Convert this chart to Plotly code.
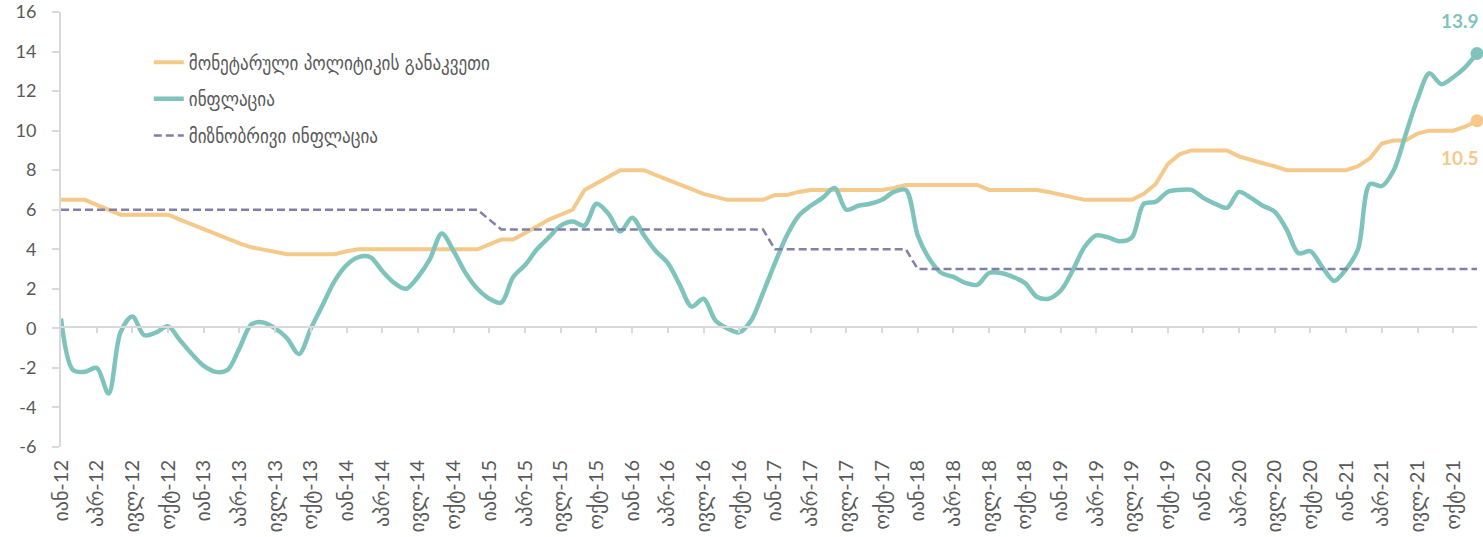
import plotly.graph_objects as go

# Monthly observations, January 2012 – December 2021
month_names = ["იან", "თებ", "მარ", "აპრ", "მაი", "ივნ", "ივლ", "აგვ", "სექ", "ოქტ", "ნოე", "დეკ"]
years = list(range(2012, 2022))
categories = [f"{m}-{str(y)[2:]}" for y in years for m in month_names]

# Monetary policy rate, %
policy_rate = [
    6.5, 6.5, 6.5, 6.25, 6.0, 5.75, 5.75, 5.75, 5.75, 5.75, 5.5, 5.25,
    5.0, 4.75, 4.5, 4.3, 4.1, 4.0, 3.9, 3.75, 3.75, 3.75, 3.75, 3.75,
    3.9, 4.0, 4.0, 4.0, 4.0, 4.0, 4.0, 4.0, 4.0, 4.0, 4.0, 4.0,
    4.25, 4.5, 4.5, 4.8, 5.15, 5.5, 5.75, 6.0, 7.0, 7.33, 7.67, 8.0,
    8.0, 8.0, 7.75, 7.5, 7.25, 7.0, 6.8, 6.65, 6.5, 6.5, 6.5, 6.5,
    6.75, 6.75, 6.9, 7.0, 7.0, 7.0, 7.0, 7.0, 7.0, 7.0, 7.1, 7.25,
    7.25, 7.25, 7.25, 7.25, 7.25, 7.25, 7.0, 7.0, 7.0, 7.0, 7.0, 6.9,
    6.75, 6.6, 6.5, 6.5, 6.5, 6.5, 6.5, 6.8, 7.3, 8.3, 8.8, 9.0,
    9.0, 9.0, 9.0, 8.7, 8.5, 8.35, 8.2, 8.0, 8.0, 8.0, 8.0, 8.0,
    8.0, 8.2, 8.6, 9.35, 9.5, 9.5, 9.85, 10.0, 10.0, 10.0, 10.2, 10.5,
]

# Annual CPI inflation, %
inflation = [
    0.5, -2.1, -2.2, -2.0, -3.3, -0.2, 0.6, -0.35, -0.2, 0.1, -0.6, -1.3,
    -1.9, -2.2, -2.1, -1.0, 0.2, 0.3, 0.0, -0.5, -1.3, 0.0, 1.2, 2.4,
    3.2, 3.6, 3.6, 2.9, 2.3, 2.0, 2.6, 3.5, 4.8, 3.9, 2.8, 2.0,
    1.5, 1.3, 2.6, 3.2, 4.0, 4.6, 5.2, 5.4, 5.2, 6.3, 5.8, 4.9,
    5.6, 4.7, 3.9, 3.3, 2.2, 1.1, 1.5, 0.4, 0.0, -0.2, 0.4, 1.8,
    3.3, 4.7, 5.7, 6.2, 6.6, 7.1, 6.0, 6.2, 6.3, 6.5, 6.9, 7.0,
    4.7, 3.5, 2.8, 2.6, 2.3, 2.2, 2.8, 2.8, 2.6, 2.3, 1.6, 1.5,
    1.9, 2.9, 4.1, 4.7, 4.6, 4.4, 4.6, 6.3, 6.4, 6.9, 7.0, 7.0,
    6.6, 6.3, 6.1, 6.9, 6.6, 6.2, 5.9, 5.0, 3.8, 3.9, 3.1, 2.4,
    3.0, 4.0, 7.3, 7.2, 8.0, 9.8, 11.6, 12.9, 12.35, 12.7, 13.2, 13.9,
]

# Targeted inflation, %
target = [6.0] * 36 + [5.5] + [5.0] * 23 + [4.0] * 12 + [3.0] * 48

series_names = [
    "მონეტარული პოლიტიკის განაკვეთი",
    "ინფლაცია",
    "მიზნობრივი ინფლაცია",
]

y_ticks = list(range(-6, 17, 2))
y_ticktext = [str(v) for v in y_ticks]
x_ticks = categories[::3]

ORANGE = "#F5C98A"
TEAL = "#7FC4BC"
PURPLE = "#8080A8"
TEXT = "#595959"
AXIS = "#D9D9D9"
FONT = "Lato, 'DejaVu Sans', sans-serif"
LEGEND_FONT = "'DejaVu Sans Condensed', 'DejaVu Sans', sans-serif"

Y_MIN, Y_MAX = -6, 16
ZERO_FRAC = (0 - Y_MIN) / (Y_MAX - Y_MIN)

fig = go.Figure()

fig.add_trace(go.Scatter(
    x=categories, y=policy_rate, mode="lines", name=series_names[0],
    line=dict(color=ORANGE, width=4), legendgroup="a",
))
fig.add_trace(go.Scatter(
    x=categories, y=inflation, mode="lines", name=series_names[1],
    line=dict(color=TEAL, width=4.5, shape="spline", smoothing=0.9), legendgroup="b",
))
fig.add_trace(go.Scatter(
    x=categories, y=target, mode="lines", name=series_names[2],
    line=dict(color=PURPLE, width=2.5, dash="8px,4px"), legendgroup="c",
))

# End-point markers for the latest observations
fig.add_trace(go.Scatter(
    x=[categories[-1]], y=[policy_rate[-1]], mode="markers", showlegend=False,
    marker=dict(color=ORANGE, size=13), cliponaxis=False,
))
fig.add_trace(go.Scatter(
    x=[categories[-1]], y=[inflation[-1]], mode="markers", showlegend=False,
    marker=dict(color=TEAL, size=13), cliponaxis=False,
))

# Empty trace that registers the helper subplot carrying the zero-crossing axis
fig.add_trace(go.Scatter(
    x=[], y=[], xaxis="x2", yaxis="y2", showlegend=False, hoverinfo="skip",
))

fig.add_annotation(
    x=categories[-1], y=inflation[-1], text=f"<b>{inflation[-1]:.1f}</b>",
    showarrow=False, xshift=-17, yshift=33, font=dict(size=19, color=TEAL, family=FONT),
)
fig.add_annotation(
    x=categories[-1], y=policy_rate[-1], text=f"<b>{policy_rate[-1]:.1f}</b>",
    showarrow=False, xshift=-17, yshift=-37, font=dict(size=19, color=ORANGE, family=FONT),
)

x_range = [0, len(categories) - 1]

fig.update_layout(
    width=1483, height=537,
    margin=dict(l=61, r=6, t=12, b=90, autoexpand=False),
    paper_bgcolor="white", plot_bgcolor="rgba(0,0,0,0)",
    font=dict(family=FONT, color=TEXT),
    showlegend=True,
    legend=dict(
        x=0.062, y=0.928, xanchor="left", yanchor="top",
        font=dict(size=19, color=TEXT, family=LEGEND_FONT),
        traceorder="grouped", tracegroupgap=9,
        bgcolor="rgba(0,0,0,0)",
    ),
    # month labels along the bottom edge
    xaxis=dict(
        type="category", categoryorder="array", categoryarray=categories,
        range=x_range, tickmode="array", tickvals=x_ticks, ticktext=x_ticks,
        tickangle=-90, tickfont=dict(size=20, color=TEXT),
        showline=False, showgrid=False, zeroline=False, ticks="",
        ticklabelstandoff=8, automargin=False,
    ),
    yaxis=dict(
        range=[Y_MIN, Y_MAX], tickmode="array", tickvals=y_ticks, ticktext=y_ticktext,
        tickfont=dict(size=18, color=TEXT),
        showline=True, linecolor=AXIS, linewidth=2,
        ticks="outside", ticklen=7, tickcolor=AXIS, tickwidth=1.5,
        showgrid=False, zeroline=False, ticklabelstandoff=12, automargin=False,
    ),
    # horizontal category axis line with tick marks, crossing the value axis at zero:
    # the top edge of a helper band that spans the region below zero
    xaxis2=dict(
        type="category", categoryorder="array", categoryarray=categories,
        range=x_range, domain=[0, 1], anchor="y2", side="top",
        tickmode="array", tickvals=x_ticks, ticktext=x_ticks, showticklabels=False,
        showline=True, linecolor=AXIS, linewidth=2,
        ticks="inside", ticklen=5, tickcolor=AXIS, tickwidth=1.5,
        showgrid=False, zeroline=False, automargin=False,
    ),
    yaxis2=dict(
        domain=[0, ZERO_FRAC], anchor="x2", range=[0, 1],
        showline=False, showticklabels=False, ticks="", showgrid=False,
        zeroline=False, automargin=False,
    ),
)

fig.write_html("out.html")
